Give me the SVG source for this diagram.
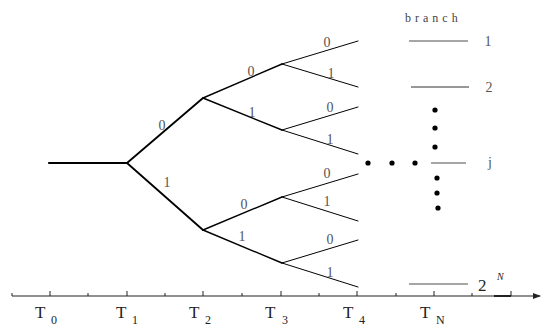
<svg xmlns="http://www.w3.org/2000/svg" width="542" height="327" viewBox="0 0 542 327">
<style>
.t{stroke:#000;fill:none;stroke-linecap:round}
.lbl{font-family:"Liberation Serif","DejaVu Serif",serif;font-size:14px;fill:#555;text-anchor:middle}
.br{stroke:#888;stroke-width:1.3}
.T{font-family:"Liberation Serif","DejaVu Serif",serif;font-size:17px;fill:#222}
.s{font-family:"Liberation Serif","DejaVu Serif",serif;font-size:12px;fill:#222}
.tick{stroke:#222;stroke-width:1}
</style>
<defs>
<marker id="arr" markerWidth="8" markerHeight="6" refX="7" refY="3" orient="auto" markerUnits="userSpaceOnUse">
<path d="M0,0 L8,3 L0,6 Z" fill="#222"/>
</marker>
</defs>
<g id="connectors">
<line class="t" x1="49" y1="163" x2="127" y2="163" stroke-width="2.2"/>
<line class="t" x1="127" y1="163" x2="203" y2="98" stroke-width="1.8"/>
<line class="t" x1="127" y1="163" x2="203" y2="230" stroke-width="1.8"/>
<line class="t" x1="203" y1="98" x2="282" y2="64" stroke-width="1.4"/>
<line class="t" x1="203" y1="98" x2="282" y2="130" stroke-width="1.4"/>
<line class="t" x1="203" y1="230" x2="282" y2="197" stroke-width="1.4"/>
<line class="t" x1="203" y1="230" x2="282" y2="263" stroke-width="1.4"/>
<line class="t" x1="282" y1="64" x2="358" y2="41" stroke-width="1"/>
<line class="t" x1="282" y1="64" x2="358" y2="87" stroke-width="1"/>
<line class="t" x1="282" y1="130" x2="358" y2="107" stroke-width="1"/>
<line class="t" x1="282" y1="130" x2="358" y2="154" stroke-width="1"/>
<line class="t" x1="282" y1="197" x2="358" y2="174" stroke-width="1"/>
<line class="t" x1="282" y1="197" x2="358" y2="221" stroke-width="1"/>
<line class="t" x1="282" y1="263" x2="358" y2="240" stroke-width="1"/>
<line class="t" x1="282" y1="263" x2="358" y2="287" stroke-width="1"/>
</g>
<g id="edge-labels">
<text class="lbl" x="162" y="130">0</text>
<text class="lbl" x="167" y="187">1</text>
<text class="lbl" x="251" y="76">0</text>
<text class="lbl" x="252" y="117">1</text>
<text class="lbl" x="244" y="209">0</text>
<text class="lbl" x="242" y="241">1</text>
<text class="lbl" x="327" y="47">0</text>
<text class="lbl" x="331" y="78">1</text>
<text class="lbl" x="330" y="112">0</text>
<text class="lbl" x="330" y="144">1</text>
<text class="lbl" x="327" y="178">0</text>
<text class="lbl" x="327" y="206">1</text>
<text class="lbl" x="330" y="244">0</text>
<text class="lbl" x="330" y="277">1</text>
</g>
<g id="branches">
<text x="405" y="22" font-family="Liberation Serif,DejaVu Serif,serif" font-size="12" fill="#444" letter-spacing="4">branch</text>
<line class="br" x1="409" y1="41" x2="468" y2="41"/>
<text class="lbl" x="488" y="46">1</text>
<line x1="411" y1="87" x2="469" y2="87" stroke="#333" stroke-width="1.1"/>
<text class="lbl" x="489" y="92">2</text>
<line class="br" x1="431" y1="163" x2="466" y2="163"/>
<text class="lbl" x="490" y="167">j</text>
<line class="br" x1="409" y1="284" x2="468" y2="284"/>
<text x="478" y="291" font-family="Liberation Serif,DejaVu Serif,serif" font-size="17" fill="#222">2</text>
<text x="497" y="280" font-family="Liberation Serif,DejaVu Serif,serif" font-size="10" font-style="italic" fill="#222">N</text>
</g>
<g id="dots" fill="#000">
<circle cx="435" cy="110" r="2.6"/>
<circle cx="435" cy="128" r="2.6"/>
<circle cx="435" cy="147" r="2.6"/>
<circle cx="368" cy="163" r="2.6"/>
<circle cx="392" cy="163" r="2.6"/>
<circle cx="415" cy="163" r="2.6"/>
<circle cx="437" cy="178" r="2.6"/>
<circle cx="437" cy="193" r="2.6"/>
<circle cx="438" cy="208" r="2.6"/>
</g>
<g id="axis">
<line x1="12" y1="296" x2="540" y2="296" stroke="#222" stroke-width="1.2" marker-end="url(#arr)"/>
<line x1="494" y1="296" x2="511" y2="296" stroke="#222" stroke-width="2"/>
<g class="tick">
<line x1="50" y1="291" x2="50" y2="296"/>
<line x1="88" y1="293" x2="88" y2="296"/>
<line x1="127" y1="291" x2="127" y2="296"/>
<line x1="165" y1="293" x2="165" y2="296"/>
<line x1="203" y1="291" x2="203" y2="296"/>
<line x1="242" y1="293" x2="242" y2="296"/>
<line x1="281" y1="291" x2="281" y2="296"/>
<line x1="319" y1="293" x2="319" y2="296"/>
<line x1="357" y1="291" x2="357" y2="296"/>
<line x1="396" y1="293" x2="396" y2="296"/>
<line x1="434" y1="291" x2="434" y2="296"/>
<line x1="472" y1="293" x2="472" y2="296"/>
<line x1="511" y1="291" x2="511" y2="296"/>
<line x1="12" y1="293" x2="12" y2="296"/>
</g>
<text class="T" x="35" y="318">T</text><text class="s" x="51" y="324">0</text>
<text class="T" x="116" y="318">T</text><text class="s" x="132" y="324">1</text>
<text class="T" x="189" y="318">T</text><text class="s" x="205" y="324">2</text>
<text class="T" x="265" y="318">T</text><text class="s" x="282" y="324">3</text>
<text class="T" x="343" y="318">T</text><text class="s" x="359" y="324">4</text>
<text class="T" x="420" y="318">T</text><text class="s" x="436" y="324">N</text>
</g>
</svg>
